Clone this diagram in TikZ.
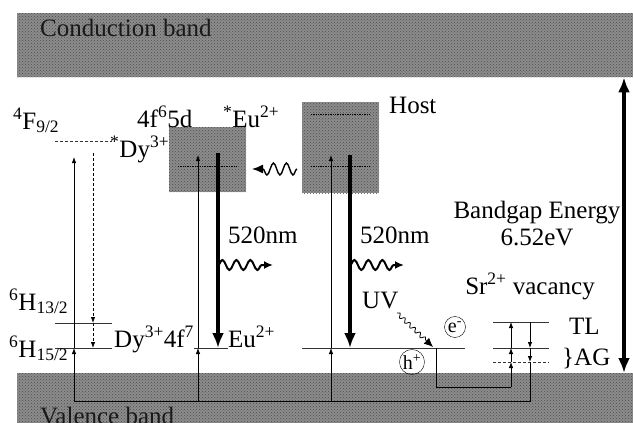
\documentclass[tikz,border=0pt]{standalone}
\usepackage{fontspec}
\setmainfont{Liberation Serif}
\usetikzlibrary{arrows.meta,decorations.pathmorphing,patterns}

\begin{document}
\begin{tikzpicture}[
  x=1pt, y=-1pt,
  font=\fontsize{25}{28}\selectfont,
  band/.style={fill=black!45, inner sep=0pt, anchor=north west,
    postaction={pattern=crosshatch dots, pattern color=black!70}},
  level/.style={black!80, line width=0.7pt},
  lbl/.style={anchor=base west, inner sep=0pt},
  arrow/.style={-{Latex[length=6pt,width=4.5pt]}, line width=0.8pt},
  thickarrow/.style={-{Latex[length=15pt,width=12pt]}, line width=3.5pt},
  gaparrow/.style={{Latex[length=15pt,width=12pt]}-{Latex[length=15pt,width=12pt]}, line width=3.5pt},
  wave/.style={-{Latex[length=9pt,width=8pt]}, line width=2pt, decorate,
    decoration={snake, amplitude=5pt, segment length=14pt, post length=8pt}},
  charge/.style={draw, circle, inner sep=0.4pt, minimum size=21pt,
    font=\fontsize{20}{22}\selectfont}
]
  \useasboundingbox (0,0) rectangle (633,423);
  \clip (0,0) rectangle (633,423);

  % bands
  \node[band, minimum width=616pt, minimum height=64pt] (cb) at (17,13) {};
  \node[band, minimum width=616pt, minimum height=60pt] (vb) at (17,373) {};
  \node[lbl, black!90] (cbTxt) at (40,37) {Conduction band};
  \node[lbl, black!90] (vbTxt) at (40,424) {Valence band};

  % Dy3+ levels
  \coordinate (dyF) at (55,141);
  \coordinate (dyH13) at (55,323);
  \coordinate (dyH15) at (55,348);
  \draw[level, densely dashed] (dyF) -- ++(57,0);
  \draw[level] (dyH13) -- ++(57,0);
  \draw[level] (dyH15) -- ++(57,0);
  \node[lbl] (fLbl) at (13,129) {\textsuperscript{4}F\textsubscript{9/2}};
  \node[lbl] (dyStar) at (110,157) {\textsuperscript{*}Dy\textsuperscript{3+}};
  \node[lbl] (h13Lbl) at (9,310) {\textsuperscript{6}H\textsubscript{13/2}};
  \node[lbl] (h15Lbl) at (9,357) {\textsuperscript{6}H\textsubscript{15/2}};
  \node[lbl] (dyGnd) at (114,347) {Dy\textsuperscript{3+}4f\textsuperscript{7}};

  \coordinate (dyBot) at (74,401);
  \coordinate (dyTop) at (74,157);
  \draw[arrow] (dyBot) -- (dyBot |- dyH15);
  \draw[arrow] (dyBot |- dyH15) -- (dyTop);
  \coordinate (dyRel) at (93,153);
  \draw[arrow, densely dashed] (dyRel) -- (dyRel |- dyH13);
  \draw[arrow, densely dashed] (dyRel |- dyH13) -- (dyRel |- dyH15);

  % Eu2+ centre
  \node[band, minimum width=77pt, minimum height=65pt] (euBox) at (169,127) {};
  \node[lbl] (euConf) at (137,127) {4f\textsuperscript{6}5d};
  \node[lbl] (euStar) at (223,127) {\textsuperscript{*}Eu\textsuperscript{2+}};
  \coordinate (euExc) at (178,166);
  \draw[level, black, densely dotted, line width=1pt] (euExc) -- ++(58,0);
  \coordinate (euGnd) at (194,348);
  \draw[level] (euGnd) -- ++(34,0);
  \node[lbl] (euLbl) at (228,347) {Eu\textsuperscript{2+}};

  \coordinate (euUp) at (198,401);
  \coordinate (euUpTop) at (198,155);
  \draw[arrow] (euUp) -- (euUp |- euGnd);
  \draw[arrow] (euUp |- euGnd) -- (euUpTop);
  \coordinate (euDn) at (218,153);
  \draw[thickarrow] (euDn) -- (euDn |- euGnd);
  \coordinate (euEm) at (218,265);
  \coordinate (euEmEnd) at (273,265);
  \draw[wave] (euEm) -- (euEmEnd);
  \node[lbl] (nmA) at (228,243) {520nm};

  % host
  \node[band, minimum width=77pt, minimum height=91pt] (hostBox) at (302,102) {};
  \node[lbl] (hostLbl) at (389,113) {Host};
  \coordinate (hostHi) at (311,114);
  \coordinate (hostLo) at (311,166);
  \draw[level, black, densely dotted, line width=1pt] (hostHi) -- ++(59,0);
  \draw[level, black, densely dotted, line width=1pt] (hostLo) -- ++(59,0);
  \coordinate (hostGnd) at (302,348);
  \draw[level] (hostGnd) -- ++(163,0);

  \coordinate (hostUp) at (331,401);
  \coordinate (hostUpTop) at (331,155);
  \draw[arrow] (hostUp) -- (hostUp |- hostGnd);
  \draw[arrow] (hostUp |- hostGnd) -- (hostUpTop);
  \coordinate (hostDn) at (350,155);
  \draw[thickarrow] (hostDn) -- (hostDn |- hostGnd);
  \coordinate (hostEm) at (350,265);
  \coordinate (hostEmEnd) at (404,265);
  \draw[wave] (hostEm) -- (hostEmEnd);
  \node[lbl] (nmB) at (360,243) {520nm};

  % energy transfer host -> Eu
  \coordinate (hostOut) at (297,169);
  \coordinate (euIn) at (252,169);
  \draw[wave, line width=1.4pt, decoration={snake, amplitude=6pt, segment length=13pt, post length=10pt},
    -{Latex[length=11pt,width=9pt]}] (hostOut) -- (euIn);

  % UV excitation
  \node[lbl] (uvLbl) at (362,308) {UV};
  \coordinate (uvFrom) at (397,313);
  \coordinate (uvTo) at (433,347);
  \draw[-{Latex[length=9pt,width=8pt]}, line width=0.8pt, decorate,
    decoration={snake, amplitude=2pt, segment length=7pt, post length=9pt}] (uvFrom) -- (uvTo);
  \node[charge] (elec) at (455,327) {e\textsuperscript{-}};
  \node[charge] (hole) at (412,362) {h\textsuperscript{+}};

  % Sr2+ vacancy traps
  \coordinate (tl) at (493,322);
  \coordinate (agA) at (493,348);
  \coordinate (agB) at (493,362);
  \draw[level] (tl) -- ++(56,0);
  \draw[level] (agA) -- ++(56,0);
  \draw[level, densely dashed] (agB) -- ++(56,0);
  \node[lbl] (tlLbl) at (569,334) {TL};
  \node[lbl] (agLbl) at (562,365) {\}AG};
  \node[lbl, anchor=base] (srLbl) at (530,294) {Sr\textsuperscript{2+} vacancy};

  \coordinate (holeDn) at (436,348);
  \coordinate (trapUp) at (511,387);
  \draw[line width=0.8pt] (holeDn) -- (holeDn |- trapUp) -- (trapUp);
  \draw[arrow] (trapUp) -- (trapUp |- agB);
  \draw[arrow] (trapUp |- agB) -- (trapUp |- agA);
  \draw[arrow] (trapUp |- agA) -- (trapUp |- tl);
  \coordinate (trapDn) at (530,322);
  \coordinate (trapBot) at (530,401);
  \draw[arrow] (trapDn) -- (trapDn |- agA);
  \draw[arrow] (trapDn |- agA) -- (trapDn |- agB);
  \draw[line width=0.8pt] (trapDn |- agB) -- (trapBot) -- (dyBot);

  % band gap
  \node[lbl, anchor=base] (gapLbl) at (537,218) {Bandgap Energy};
  \node[lbl, anchor=base] (gapVal) at (537,245) {6.52eV};
  \coordinate (gapX) at (624,0);
  \draw[gaparrow] (cb.south -| gapX) -- (vb.north -| gapX);
\end{tikzpicture}
\end{document}
